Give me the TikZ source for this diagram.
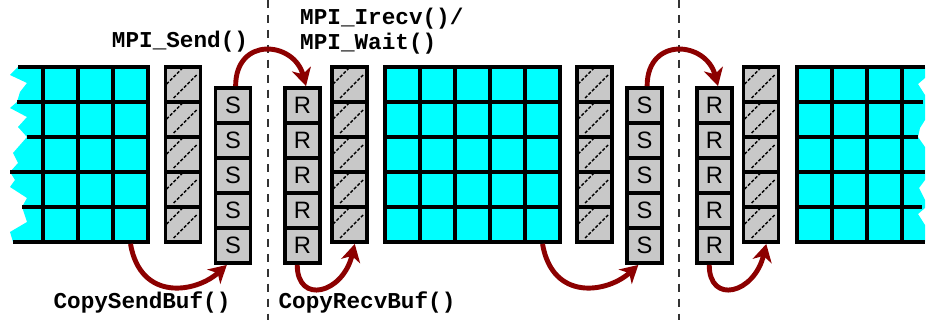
\documentclass[tikz,border=0pt]{standalone}
\usepackage{fontspec}
\setmainfont{Liberation Sans}
\newfontfamily\codefont{Liberation Mono}
\usetikzlibrary{arrows.meta}
\definecolor{gridcyan}{RGB}{0,255,255}
\definecolor{bufgray}{RGB}{200,200,200}
\definecolor{copyred}{RGB}{140,0,0}

\begin{document}
\begin{tikzpicture}[x=0.02cm, y=-0.02cm,
    gcell/.style={rectangle, draw, fill=gridcyan, line width=2.2pt, minimum width=0.7cm, minimum height=0.7cm, inner sep=0pt},
    bcell/.style={gcell, fill=bufgray, font=\fontsize{13.5}{16}\selectfont},
    rowline/.style={line width=2.2pt},
    hatch/.style={line width=0.8pt, dash pattern=on 1.8pt off 1pt},
    arr/.style={-{Stealth[length=10pt, width=11pt, inset=3pt]}, line width=2.8pt, color=copyred},
    fn/.style={font=\codefont\bfseries\fontsize{12.9}{14.2}\selectfont},
    procline/.style={line width=0.9pt, dash pattern=on 4.5pt off 4pt, color=black!80}
]
\useasboundingbox (0,0) rectangle (926,320);

\fill[gridcyan] (44,67) -- (18,67) -- (10,75) -- (27,83) -- (20,92) -- (17,102) -- (10,108) -- (27,117) -- (18,127) -- (27,137) -- (13,153) -- (18,163) -- (10,172) -- (15,180) -- (10,187) -- (27,198) -- (22,207) -- (27,222) -- (10,232) -- (13,242) -- (44,242) -- cycle;
\fill[gridcyan] (901,67) -- (925,67) -- (925,78) -- (918,84) -- (925,95) -- (925,120) -- (920,128) -- (918,137) -- (925,147) -- (925,180) -- (919,188) -- (925,200) -- (925,208) -- (918,214) -- (925,225) -- (925,242) -- (901,242) -- cycle;

\foreach \r in {1,...,5} {
  \foreach \c in {1,2,3} \node[gcell] (L-\r-\c) at ({43+35*\c-17.5}, {67+35*\r-17.5}) {};
  \foreach \c in {1,...,5} \node[gcell] (M-\r-\c) at ({385+35*\c-17.5}, {67+35*\r-17.5}) {};
  \foreach \c in {1,2,3} \node[gcell] (R-\r-\c) at ({797+35*\c-17.5}, {67+35*\r-17.5}) {};
  \node[bcell] (h1-\r) at (183, {67+35*\r-17.5}) {};
  \node[bcell] (s1-\r) at (233, {88+35*\r-17.5}) {S};
  \node[bcell] (r1-\r) at (302.5, {88+35*\r-17.5}) {R};
  \node[bcell] (h2-\r) at (349.5, {67+35*\r-17.5}) {};
  \node[bcell] (h3-\r) at (594.5, {67+35*\r-17.5}) {};
  \node[bcell] (s2-\r) at (644.5, {88+35*\r-17.5}) {S};
  \node[bcell] (r2-\r) at (714.5, {88+35*\r-17.5}) {R};
  \node[bcell] (h4-\r) at (761, {67+35*\r-17.5}) {};
}

\draw[rowline] (18,67) -- (44,67) (17,102) -- (44,102) (27,137) -- (44,137) (10,172) -- (44,172) (22,207) -- (44,207) (13,242) -- (44,242);
\draw[rowline] (901,67) -- (925,67) (901,102) -- (923,102) (901,137) -- (918,137) (901,172) -- (925,172) (901,207) -- (922,207) (901,242) -- (925,242);

\foreach \n in {h1,h2,h3,h4}
  \foreach \r in {1,...,5} {
    \draw[hatch] ([shift={(3,19)}]\n-\r.north west) -- ++(17,-17);
    \draw[hatch] ([shift={(10,33)}]\n-\r.north west) -- ++(23,-23);
  }

\draw[procline] (268,0) -- (268,320);
\draw[procline] (679,0) -- (679,320);

\draw[arr] ([xshift=1.5pt]s1-1.north) .. controls +(0,-50) and +(-12,-45) .. ([xshift=2pt]r1-1.north);
\draw[arr] (L-5-3.south) .. controls +(10,58) and +(-31,28) .. ([xshift=-3.5pt]s1-5.south);
\draw[arr] ([xshift=-3pt]r1-5.south) .. controls +(0,40) and +(-12,50) .. ([xshift=3pt]h2-5.south);
\draw[arr] (M-5-5.south) .. controls +(10,58) and +(-31,28) .. ([xshift=-3.5pt]s2-5.south);
\draw[arr] ([xshift=1.5pt]s2-1.north) .. controls +(0,-50) and +(-12,-45) .. ([xshift=2pt]r2-1.north);
\draw[arr] ([xshift=-3pt]r2-5.south) .. controls +(0,40) and +(-12,50) .. ([xshift=3pt]h4-5.south);

\node[fn] (send) at (180,42) {MPI\_Send()};
\node[fn, align=left, anchor=west] (irecv) at (294,31) {MPI\_Irecv()/\\MPI\_Wait()};
\node[fn] (copysend) at (142,302) {CopySendBuf()};
\node[fn] (copyrecv) at (367,302) {CopyRecvBuf()};
\end{tikzpicture}
\end{document}
